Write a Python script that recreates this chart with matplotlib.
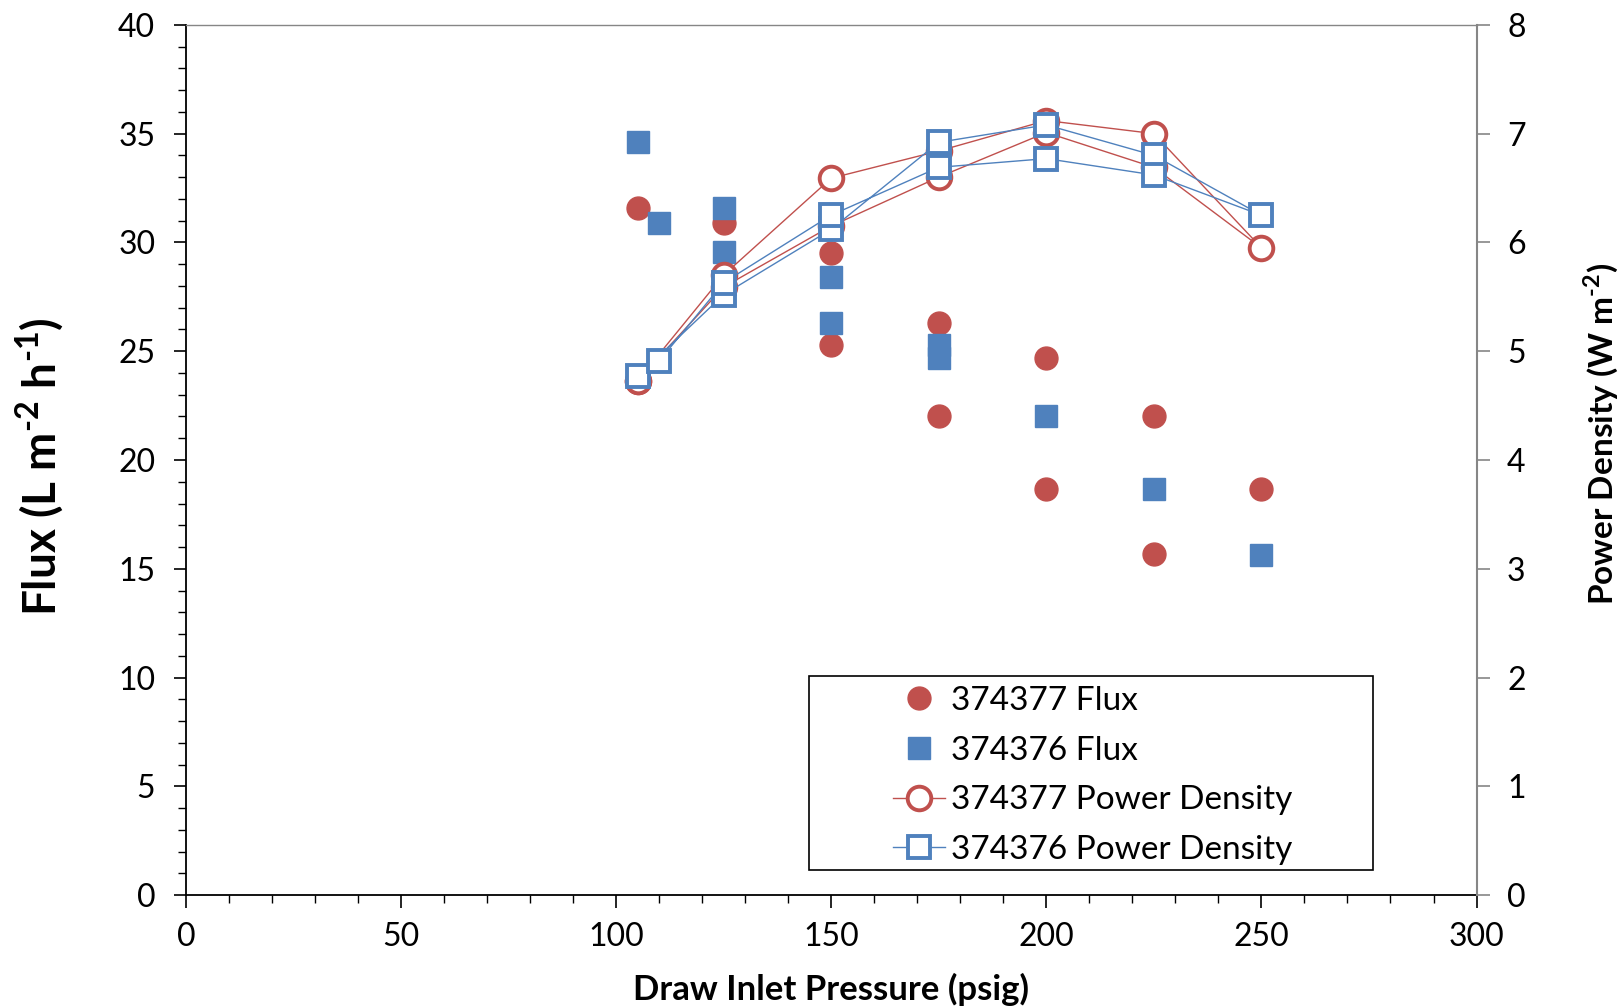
import matplotlib
matplotlib.use("Agg")
import matplotlib.pyplot as plt
from matplotlib.patches import Rectangle
from matplotlib.ticker import MultipleLocator

plt.rcParams['font.family'] = ['Lato', 'DejaVu Sans']
plt.rcParams['mathtext.fontset'] = 'custom'
plt.rcParams['mathtext.rm'] = 'Lato'
plt.rcParams['mathtext.bf'] = 'Lato:bold'

# flux readings (left axis), L m-2 h-1
red_flux_x = [105, 125, 150, 150, 175, 175, 200, 200, 225, 225, 250]
red_flux = [31.6, 30.9, 29.5, 25.3, 26.3, 22.0, 24.7, 18.65, 22.0, 15.7, 18.65]
blue_flux_x = [105, 110, 125, 125, 150, 150, 175, 175, 200, 225, 250]
blue_flux = [34.6, 30.9, 31.6, 29.55, 28.4, 26.3, 25.3, 24.7, 22.0, 18.65, 15.65]

# power density (right axis), W m-2, pressure ramped up then back down
red_pd_x = [105, 125, 150, 175, 200, 225, 250, 225, 200, 175, 150, 125, 105]
red_pd = [4.73, 5.70, 6.59, 6.84, 7.12, 7.00, 5.95, 6.69, 7.01, 6.60, 6.15, 5.59, 4.73]
blue_pd_x = [105, 125, 150, 175, 200, 225, 250, 225, 200, 175, 150, 125, 110]
blue_pd = [4.77, 5.52, 6.12, 6.92, 7.08, 6.80, 6.25, 6.62, 6.77, 6.69, 6.25, 5.63, 4.91]

labels = ['374377 Flux', '374376 Flux', '374377 Power Density', '374376 Power Density']
RED = '#C0504D'
BLUE = '#4F81BD'
GRAY = '#868686'
HY = '\u2010'  # short hyphen for the superscripts, like the original

fig = plt.figure(figsize=(16.19, 10.08), dpi=100)
ax = fig.add_axes([0.1148, 0.1119, 0.7972, 0.8635])
ax2 = ax.twinx()

h1, = ax.plot(red_flux_x, red_flux, ls='none', marker='o', ms=16.5, color=RED, mec=RED)
h2, = ax.plot(blue_flux_x, blue_flux, ls='none', marker='s', ms=15.5, color=BLUE, mec=BLUE)
h3, = ax2.plot(red_pd_x, red_pd, color=RED, lw=1.0, marker='o', ms=17, mfc='white',
               mec=RED, mew=2.8)
h4, = ax2.plot(blue_pd_x, blue_pd, color=BLUE, lw=1.0, marker='s', ms=16.5, mfc='white',
               mec=BLUE, mew=2.8)

ax.set_xlim(0, 300)
ax.set_ylim(0, 40)
ax2.set_ylim(0, 8)

ax.xaxis.set_major_locator(MultipleLocator(50))
ax.xaxis.set_minor_locator(MultipleLocator(10))
ax.yaxis.set_major_locator(MultipleLocator(5))
ax.yaxis.set_minor_locator(MultipleLocator(1))
ax2.yaxis.set_major_locator(MultipleLocator(1))

ax.spines['top'].set_visible(False)
ax.spines['right'].set_visible(False)
ax.spines['left'].set_linewidth(1.3)
ax.spines['bottom'].set_linewidth(1.3)
ax2.spines['left'].set_visible(False)
ax2.spines['bottom'].set_visible(False)
ax2.spines['right'].set_color(GRAY)
ax2.spines['right'].set_linewidth(1.5)
ax2.spines['top'].set_color(GRAY)
ax2.spines['top'].set_linewidth(1.0)

ax.tick_params(axis='both', which='major', direction='out', length=9, width=1.2,
               labelsize=23)
ax.tick_params(axis='both', which='minor', direction='out', length=6, width=1.0)
ax.tick_params(axis='y', which='major', pad=13)
ax.tick_params(axis='x', which='major', pad=10)
ax2.tick_params(axis='y', which='major', direction='out', length=9, width=1.2,
                color=GRAY, labelsize=23, pad=13)

fig.text(0.0242, 0.537, r'Flux (L m$^{\mathbf{%s2}}$ h$^{\mathbf{%s1}}$)' % (HY, HY),
         rotation=90, ha='center', va='center', fontsize=33, fontweight='bold')
fig.text(0.9885, 0.5697, r'Power Density (W m$^{\mathbf{%s2}}$)' % HY, rotation=90,
         ha='center', va='center', fontsize=24, fontweight='bold')
fig.text(0.5134, 0.0187, 'Draw Inlet Pressure (psig)', ha='center', va='center',
         fontsize=25, fontweight='bold')

# legend frame drawn separately, entries sit well inside it
ax2.add_patch(Rectangle((0.4825, 0.0285), 0.4375, 0.223, transform=ax2.transAxes,
                        facecolor='white', edgecolor='black', lw=1.2, zorder=4))
ax2.legend([h1, h2, h3, h4], labels, loc='upper left', bbox_to_anchor=(0.548, 0.2403),
           frameon=False, fontsize=24, borderpad=0, handlelength=1.56,
           handletextpad=0.18, labelspacing=0.59, borderaxespad=0)

fig.savefig('out.png', dpi=100)
